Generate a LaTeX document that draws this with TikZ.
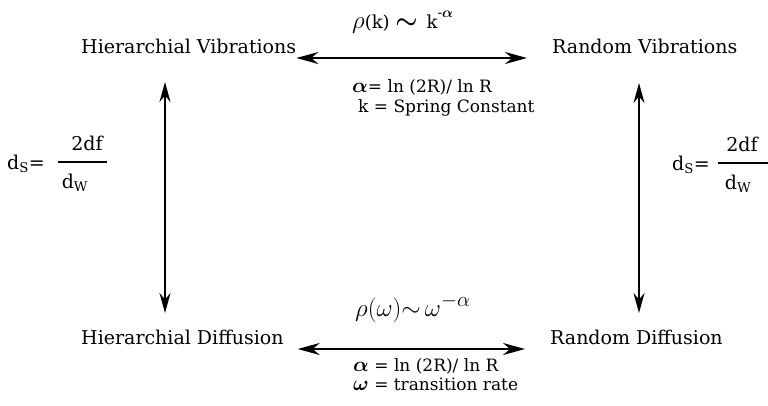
\documentclass[tikz,border=0pt]{standalone}
\usepackage{amsmath}
\usepackage{fontspec}
\setmainfont{DejaVu Serif}
\usetikzlibrary{arrows.meta}
\begin{document}
\begin{tikzpicture}[x=1pt,y=-1pt,
  lbl/.style={font=\fontsize{19}{22}\selectfont, inner sep=0pt},
  eq/.style={font=\fontsize{17}{20}\selectfont, inner sep=0pt},
  frac/.style={font=\fontsize{19}{22}\selectfont, inner sep=0pt},
  hdar/.style={{Stealth[length=22pt,width=12pt]}-{Stealth[length=22pt,width=12pt]}, line width=2.3pt},
  vdar/.style={{Stealth[length=20pt,width=11pt]}-{Stealth[length=20pt,width=11pt]}, line width=2pt}]
\useasboundingbox (0,0) rectangle (768,405);
% corner labels
\node[lbl, anchor=base west] (hv) at (81,53) {Hierarchial Vibrations};
\node[lbl, anchor=base west] (rv) at (552,53) {Random Vibrations};
\node[lbl, anchor=base west] (hd) at (81,344) {Hierarchial Diffusion};
\node[lbl, anchor=base west] (rd) at (550,344) {Random Diffusion};
% horizontal arrows
\draw[hdar] ([yshift=-5pt]hv.base east) -- ([xshift=-25pt,yshift=-5pt]rv.base west);
\draw[hdar] ([xshift=14pt,yshift=-5pt]hd.base east) -- ([xshift=-25pt,yshift=-5pt]rd.base west);
% vertical arrows
\coordinate (lt) at (165,82);
\coordinate (lb) at (165,313);
\coordinate (rt) at (639,83);
\coordinate (rb) at (639,313);
\draw[vdar] (lt) -- (lb);
\draw[vdar] (rt) -- (rb);
% top relation
\node[inner sep=0pt, anchor=base west] (rhok) at (352,28)
  {\fontsize{30}{32}\selectfont$\rho$\fontsize{18}{20}\selectfont(k) \fontsize{28}{30}\selectfont$\boldsymbol{\sim}$ \fontsize{18}{20}\selectfont k\raisebox{0.6em}{\fontsize{14}{16}\selectfont-$\boldsymbol{\alpha}$}};
\node[eq, anchor=base west] (a1) at (352,92) {\fontsize{22}{24}\selectfont$\boldsymbol{\alpha}$\fontsize{17}{20}\selectfont= ln (2R)/ ln R};
\node[eq, anchor=base west] (k1) at (358,112) {k = Spring Constant};
% bottom relation
\node[inner sep=0pt, anchor=base west] (rhow) at (355,316) {\fontsize{29}{32}\selectfont$\rho(\omega){\sim}\,\omega^{-\alpha}$};
\node[eq, anchor=base west] (a2) at (353,371) {\fontsize{22}{24}\selectfont$\boldsymbol{\alpha}$\fontsize{17}{20}\selectfont\ = ln (2R)/ ln R};
\node[eq, anchor=base west] (w2) at (353,390) {\fontsize{22}{24}\selectfont$\boldsymbol{\omega}$\fontsize{17}{20}\selectfont\ = transition rate};
% left ds
\node[frac, anchor=base west] (dsl) at (7,169) {d\textsubscript{S}=};
\node[frac, anchor=base] (nl) at (87,150) {2df};
\node[frac, anchor=base] (dl) at (75,188) {d\textsubscript{W}};
\draw[line width=1.5pt] (58,162) -- (107,162);
% right ds
\node[frac, anchor=base west] (dsr) at (672,170) {d\textsubscript{S}=};
\node[frac, anchor=base] (nr) at (742,151) {2df};
\node[frac, anchor=base] (dr) at (738,189) {d\textsubscript{W}};
\draw[line width=1.5pt] (718,163) -- (768,163);
\end{tikzpicture}
\end{document}
